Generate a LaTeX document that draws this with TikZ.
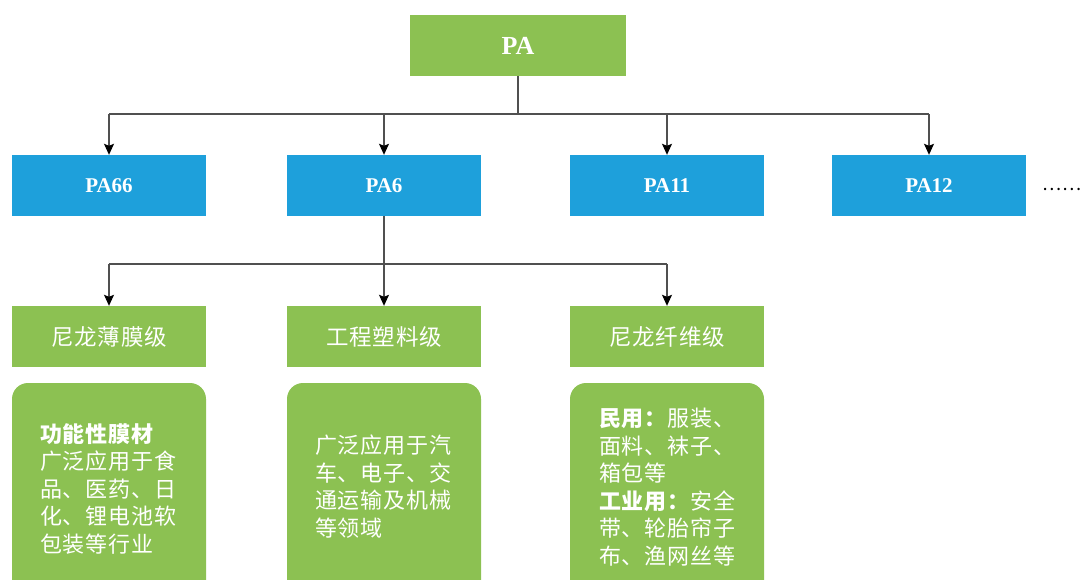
\documentclass[tikz,border=0pt]{standalone}
\usepackage{fontspec}
\setmainfont{Liberation Serif}
\newfontfamily\cjk{Noto Sans CJK SC}
\newfontfamily\cjkw{Noto Sans CJK SC}[LetterSpace=3.5]
\usetikzlibrary{arrows.meta}
\definecolor{pagreen}{RGB}{140,193,82}
\definecolor{pablue}{RGB}{30,160,219}
\definecolor{linegray}{RGB}{80,80,80}
\begin{document}
\begin{tikzpicture}[x=1pt,y=-1pt,
  topbox/.style={fill=pagreen, text=white, minimum width=216pt, minimum height=61pt, inner sep=0pt, font=\fontsize{26}{30}\selectfont\bfseries},
  bluebox/.style={fill=pablue, text=white, minimum width=194pt, minimum height=61pt, inner sep=0pt, font=\fontsize{21}{25}\selectfont\bfseries},
  greenbox/.style={fill=pagreen, text=white, minimum width=194pt, minimum height=61pt, inner sep=0pt, font=\cjkw\fontsize{22.5}{26}\selectfont},
  roundbox/.style={fill=pagreen, rounded corners=16pt},
  desc/.style={text=white, anchor=north west, align=left, inner sep=0pt, font=\cjkw\fontsize{22}{27.5}\selectfont},
  conn/.style={draw=linegray, line width=1.1pt},
  arr/.style={conn, -{Stealth[length=11pt,width=10pt,inset=2pt,fill=black,color=black]}}
]
\useasboundingbox (0,0) rectangle (1080,579);
\clip (0,0) rectangle (1080,579);

% top
\node[topbox] (pa) at (518,45.5) {PA};

% level 1
\node[bluebox] (pa66) at (109,185.5) {PA66};
\node[bluebox] (pa6)  at (384,185.5) {PA6};
\node[bluebox] (pa11) at (667,185.5) {PA11};
\node[bluebox] (pa12) at (929,185.5) {PA12};
\node[font=\cjk\fontsize{18}{20}\selectfont, inner sep=0pt] (dots) at (1062,189) {……};

% level 2
\node[greenbox] (film)  at (109,336.5) {尼龙薄膜级};
\node[greenbox] (plast) at (384,336.5) {工程塑料级};
\node[greenbox] (fiber) at (667,336.5) {尼龙纤维级};

% description boxes
\fill[roundbox] (12,383) rectangle (206,610);
\fill[roundbox] (287,383) rectangle (481,610);
\fill[roundbox] (570,383) rectangle (764,610);

\node[desc] (d1) at (40,423) {\textbf{功能性膜材}\\广泛应用于食\\品、医药、日\\化、锂电池软\\包装等行业};
\node[desc] (d2) at (315,435) {广泛应用于汽\\车、电子、交\\通运输及机械\\等领域};
\node[desc] (d3) at (599,408) {\textbf{民用：}服装、\\面料、袜子、\\箱包等\\\textbf{工业用：}安全\\带、轮胎帘子\\布、渔网丝等};

% connectors level 1
\coordinate (j1) at (518,114);
\draw[conn] (pa.south) -- (j1);
\draw[conn] (pa66.north |- j1) -- (pa12.north |- j1);
\draw[arr] (pa66.north |- j1) -- (pa66.north);
\draw[arr] (pa6.north |- j1) -- (pa6.north);
\draw[arr] (pa11.north |- j1) -- (pa11.north);
\draw[arr] (pa12.north |- j1) -- (pa12.north);

% connectors level 2
\coordinate (j2) at (384,264);
\draw[conn] (pa6.south) -- (j2);
\draw[conn] (film.north |- j2) -- (fiber.north |- j2);
\draw[arr] (film.north |- j2) -- (film.north);
\draw[arr] (plast.north |- j2) -- (plast.north);
\draw[arr] (fiber.north |- j2) -- (fiber.north);
\end{tikzpicture}
\end{document}
